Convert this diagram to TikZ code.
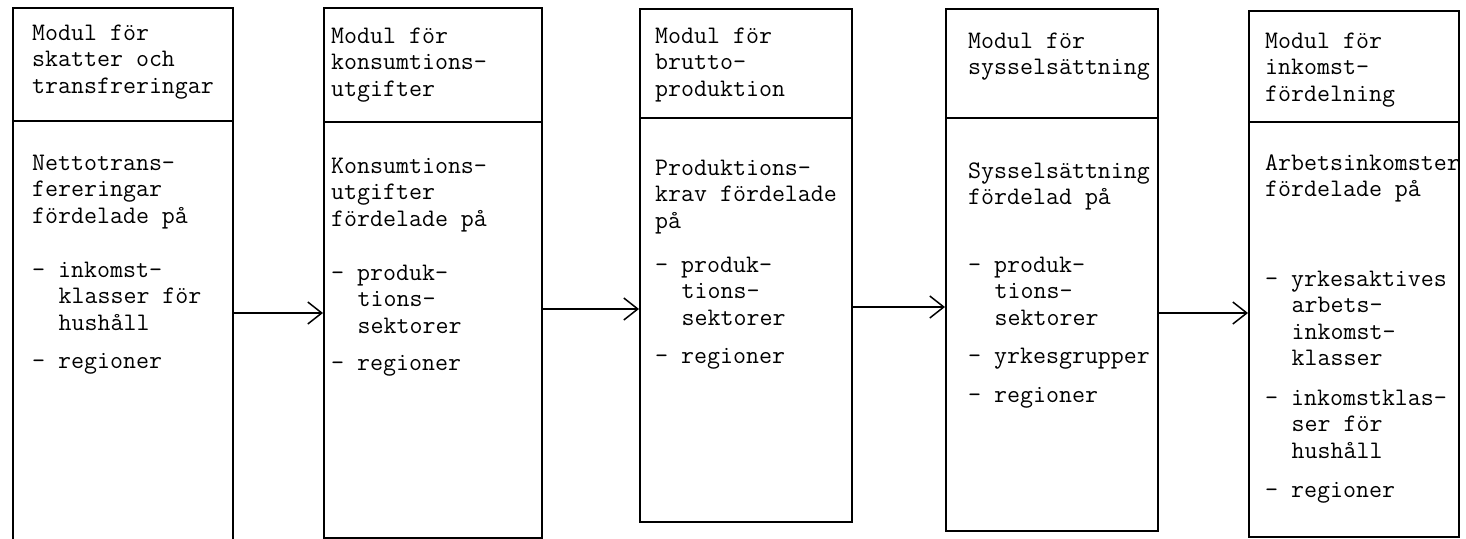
\documentclass[tikz,border=0pt]{standalone}
\usepackage{fontspec}
\usetikzlibrary{arrows.meta}
% indent of two character cells in the typewriter face
\newcommand{\ind}{\hspace*{1.05em}}
\begin{document}
\begin{tikzpicture}[x=1pt,y=-1pt,
  box/.style={draw, line width=1.5pt, anchor=north west, inner sep=0pt},
  txt/.style={anchor=north west, inner sep=0pt, align=left,
    font=\ttfamily\fontsize{25.2}{26.5}\selectfont},
  flow/.style={line width=1.5pt,
    -{Straight Barb[length=14pt,width=22pt,line width=1.5pt]}}]
\useasboundingbox (0,0) rectangle (1466,538);

% module boxes: header part and body part
\node[box, minimum width=220pt, minimum height=113pt] (h1) at (12,7) {};
\node[box, minimum width=220pt, minimum height=430pt] (b1) at (12,120) {};
\node[box, minimum width=218pt, minimum height=114pt] (h2) at (323,7) {};
\node[box, minimum width=218pt, minimum height=416pt] (b2) at (323,121) {};
\node[box, minimum width=212pt, minimum height=109pt] (h3) at (639,8) {};
\node[box, minimum width=212pt, minimum height=404pt] (b3) at (639,117) {};
\node[box, minimum width=212pt, minimum height=109pt] (h4) at (945,8) {};
\node[box, minimum width=212pt, minimum height=413pt] (b4) at (945,117) {};
\node[box, minimum width=210pt, minimum height=111pt] (h5) at (1248,10) {};
\node[box, minimum width=210pt, minimum height=415pt] (b5) at (1248,121) {};

% headers
\node[txt] (t1) at (32,21.5) {\strut Modul för\\skatter och\\transfreringar};
\node[txt] (t2) at (331,24.5) {\strut Modul för\\konsumtions-\\utgifter};
\node[txt] (t3) at (655,24.5) {\strut Modul för\\brutto-\\produktion};
\node[txt] (t4) at (968,29.5) {\strut Modul för\\sysselsättning};
\node[txt] (t5) at (1265,29.5) {\strut Modul för\\inkomst-\\fördelning};

% contents
\node[txt] (c1) at (32,151.5) {\strut Nettotrans-\\fereringar\\fördelade på\\[27.5pt]
  - inkomst-\\\ind klasser för\\\ind hushåll\\[11.5pt]- regioner};
\node[txt] (c2) at (331,154.5) {\strut Konsumtions-\\utgifter\\fördelade på\\[27.5pt]
  - produk-\\\ind tions-\\\ind sektorer\\[10.5pt]- regioner};
\node[txt] (c3) at (655,156.5) {\strut Produktions-\\krav fördelade\\på\\[17.5pt]
  - produk-\\\ind tions-\\\ind sektorer\\[11.5pt]- regioner};
\node[txt] (c4) at (968,159.5) {\strut Sysselsättning\\fördelad på\\[41pt]
  - produk-\\\ind tions-\\\ind sektorer\\[11.5pt]- yrkesgrupper\\[12.5pt]- regioner};
\node[txt] (c5) at (1265,151.5) {\strut Arbetsinkomster\\fördelade på\\[63pt]
  - yrkesaktives\\\ind arbets-\\\ind inkomst-\\\ind klasser\\[13pt]
  - inkomstklas-\\\ind ser för\\\ind hushåll\\[12.5pt]- regioner};

% flow between modules
\draw[flow] (b1.east |- 0,313) -- (b2.west |- 0,313);
\draw[flow] (b2.east |- 0,309) -- (b3.west |- 0,309);
\draw[flow] (b3.east |- 0,307) -- (b4.west |- 0,307);
\draw[flow] (b4.east |- 0,313) -- (b5.west |- 0,313);
\end{tikzpicture}
\end{document}
